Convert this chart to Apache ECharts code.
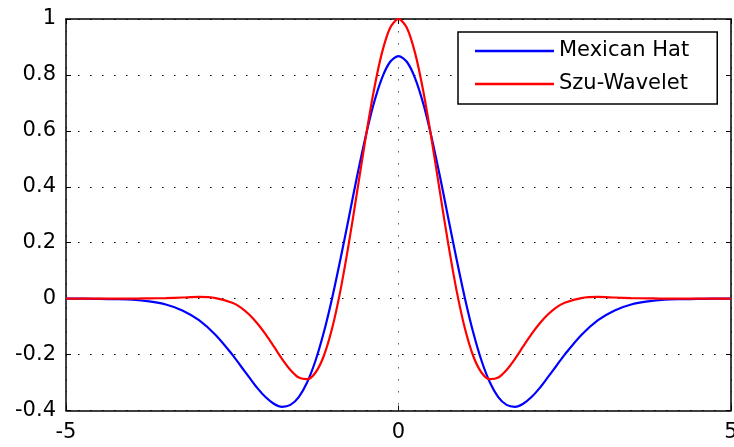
<!DOCTYPE html>
<html>
<head>
<meta charset="utf-8">
<script src="https://cdn.jsdelivr.net/npm/echarts@6/dist/echarts.min.js"></script>
<style>
html,body{margin:0;padding:0;background:#fff;}
#c{width:734px;height:447px;}
</style>
</head>
<body>
<div id="c"></div>
<script>
var xs = [-5,-4.75,-4.5,-4.25,-4,-3.75,-3.5,-3.25,-3,-2.75,
  -2.5,-2.375,-2.25,-2.125,-2,-1.875,-1.75,-1.625,-1.5,-1.375,-1.25,-1.125,-1,-0.875,-0.75,-0.625,-0.5,-0.375,-0.25,-0.125,
  0,
  0.125,0.25,0.375,0.5,0.625,0.75,0.875,1,1.125,1.25,1.375,1.5,1.625,1.75,1.875,2,2.125,2.25,2.375,2.5,
  2.75,3,3.25,3.5,3.75,4,4.25,4.5,4.75,5];
var mexicanHat = [0,0,-0.001,-0.002,-0.004,-0.010,-0.021,-0.042,-0.077,-0.130,
  -0.200,-0.240,-0.280,-0.319,-0.352,-0.376,-0.387,-0.380,-0.352,-0.300,-0.223,-0.122,0,0.139,0.286,0.435,0.574,0.695,0.788,0.847,
  0.867,
  0.847,0.788,0.695,0.574,0.435,0.286,0.139,0,-0.122,-0.223,-0.300,-0.352,-0.380,-0.387,-0.376,-0.352,-0.319,-0.280,-0.240,-0.200,
  -0.130,-0.077,-0.042,-0.021,-0.010,-0.004,-0.002,-0.001,0,0];
var szuWavelet = [0,0,0,0,0,0.001,0.002,0.004,0.006,0.002,
  -0.015,-0.031,-0.056,-0.088,-0.127,-0.171,-0.216,-0.255,-0.282,-0.288,-0.265,-0.206,-0.108,0.027,0.193,0.378,0.566,0.739,0.878,0.969,
  1.000,
  0.969,0.878,0.739,0.566,0.378,0.193,0.027,-0.108,-0.206,-0.265,-0.288,-0.282,-0.255,-0.216,-0.171,-0.127,-0.088,-0.056,-0.031,-0.015,
  0.002,0.006,0.004,0.002,0.001,0,0,0,0,0];
var seriesNames = ['Mexican Hat','Szu-Wavelet'];
var xMin = -5, xMax = 5, xStep = 5;
var yMin = -0.4, yMax = 1, yStep = 0.2;

function pairs(ys){ return xs.map(function(x,i){ return [x, ys[i]]; }); }

var font = 'DejaVu Sans';
var chart = echarts.init(document.getElementById('c'), null, {renderer:'canvas'});
var axisLineStyle = {color:'#000', width:1.5};
chart.setOption({
  animation:false,
  backgroundColor:'#fff',
  grid:{left:66, right:3, top:19, bottom:36.5, containLabel:false, outerBoundsMode:'none'},
  legend:{
    data:seriesNames.map(function(n){ return {name:n, icon:'rect'}; }),
    orient:'vertical',
    left:458, top:32,
    padding:[7,28,8,17],
    itemWidth:79, itemHeight:2.4, itemGap:9,
    borderColor:'#000', borderWidth:1.5, backgroundColor:'#fff',
    textStyle:{fontFamily:font, fontSize:21, color:'#000', lineHeight:24, padding:[0,0,0,0]},
    selectedMode:false
  },
  xAxis:[{
    type:'value', min:xMin, max:xMax, interval:xStep, position:'bottom',
    axisLine:{show:true, onZero:false, lineStyle:axisLineStyle},
    axisTick:{show:true, inside:true, length:5, lineStyle:{color:'#000', width:1}},
    axisLabel:{show:true, fontFamily:font, fontSize:21, color:'#000', margin:12, hideOverlap:false},
    splitLine:{show:true, lineStyle:{color:'#555', width:1, type:[1.5,10.5]}}
  },{
    type:'value', min:xMin, max:xMax, interval:xStep, position:'top',
    axisLine:{show:true, onZero:false, lineStyle:axisLineStyle},
    axisTick:{show:true, inside:true, length:5, lineStyle:{color:'#000', width:1}},
    axisLabel:{show:false}, splitLine:{show:false}
  }],
  yAxis:[{
    type:'value', min:yMin, max:yMax, interval:yStep, position:'left',
    axisLine:{show:true, onZero:false, lineStyle:axisLineStyle},
    axisTick:{show:true, inside:true, length:5, lineStyle:{color:'#000', width:1}},
    axisLabel:{show:true, fontFamily:font, fontSize:21, color:'#000', margin:10, padding:[8,0,0,0]},
    splitLine:{show:true, lineStyle:{color:'#000', width:1, type:[1.5,10.5]}}
  },{
    type:'value', min:yMin, max:yMax, interval:yStep, position:'right',
    axisLine:{show:true, onZero:false, lineStyle:axisLineStyle},
    axisTick:{show:true, inside:true, length:5, lineStyle:{color:'#000', width:1}},
    axisLabel:{show:false}, splitLine:{show:false}
  }],
  series:[{
    name:seriesNames[0], type:'line', xAxisIndex:0, yAxisIndex:0,
    data:pairs(mexicanHat), smooth:0.3, symbol:'none',
    lineStyle:{color:'#0000ff', width:2.2}, itemStyle:{color:'#0000ff'}, z:3
  },{
    name:seriesNames[1], type:'line', xAxisIndex:0, yAxisIndex:0,
    data:pairs(szuWavelet), smooth:0.3, symbol:'none',
    lineStyle:{color:'#ff0000', width:2.2}, itemStyle:{color:'#ff0000'}, z:4
  }]
});
</script>
</body>
</html>
